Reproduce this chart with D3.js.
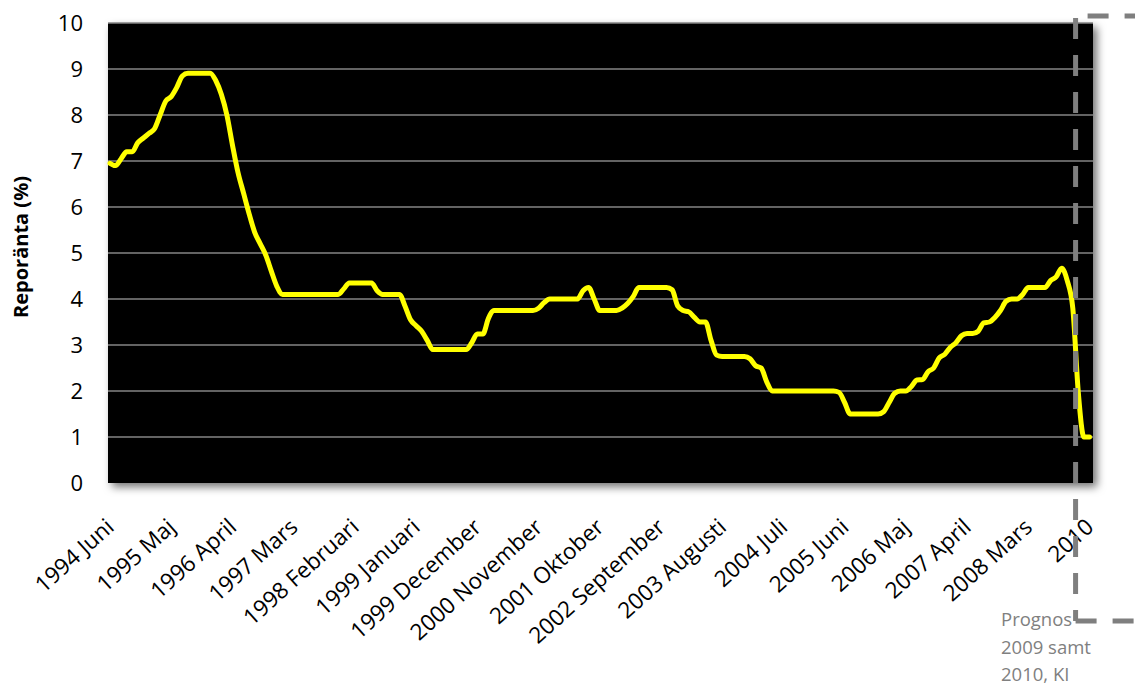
<!DOCTYPE html>
<html>
    <head>
        <title>Reporänta</title>
        <script src="https://d3js.org/d3.v7.min.js"></script>
        <meta charset="UTF-8">
        <style>
            body { margin: 0; background: #fff; }
            text { font-family: "Open Sans", sans-serif; }
        </style>
    </head>
    <body>
        <script>
            var w = 1135;
            var h = 686;

            // månadsnamn för kategorierna
            var monthNames = ["Januari", "Februari", "Mars", "April", "Maj", "Juni",
                "Juli", "Augusti", "September", "Oktober", "November", "December"];

            // 1994 Juni .. 2008 December, sedan prognosår
            var forecastYears = ["2009", "2010"];
            var categories = [];
            for (var y = 1994, m = 5; y < 2009; m++) {
                if (m > 11) { m = 0; y++; if (y > 2008) break; }
                categories.push(y + " " + monthNames[m]);
            }
            categories = categories.concat(forecastYears);

            // reporänta (%) per månad, rad = juni..maj
            var rates = [
                6.95, 6.9, 7.05, 7.2, 7.2, 7.4, 7.5, 7.6, 7.7, 8.0, 8.3, 8.4,
                8.6, 8.85, 8.91, 8.91, 8.91, 8.91, 8.91, 8.75, 8.45, 8.0, 7.35, 6.75,
                6.3, 5.85, 5.45, 5.2, 4.95, 4.6, 4.27, 4.1, 4.1, 4.1, 4.1, 4.1,
                4.1, 4.1, 4.1, 4.1, 4.1, 4.1, 4.22, 4.35, 4.35, 4.35, 4.35, 4.35,
                4.18, 4.1, 4.1, 4.1, 4.1, 3.85, 3.55, 3.42, 3.3, 3.1, 2.9, 2.9,
                2.9, 2.9, 2.9, 2.9, 2.9, 3.05, 3.24, 3.24, 3.58, 3.75, 3.75, 3.75,
                3.75, 3.75, 3.75, 3.75, 3.75, 3.8, 3.92, 4.0, 4.0, 4.0, 4.0, 4.0,
                4.0, 4.18, 4.25, 4.0, 3.75, 3.75, 3.75, 3.75, 3.8, 3.9, 4.05, 4.25,
                4.25, 4.25, 4.25, 4.25, 4.25, 4.2, 3.85, 3.75, 3.72, 3.6, 3.5, 3.5,
                3.1, 2.78, 2.75, 2.75, 2.75, 2.75, 2.75, 2.7, 2.55, 2.5, 2.2, 2.0,
                2.0, 2.0, 2.0, 2.0, 2.0, 2.0, 2.0, 2.0, 2.0, 2.0, 2.0, 1.97,
                1.75, 1.5, 1.5, 1.5, 1.5, 1.5, 1.5, 1.55, 1.75, 1.95, 2.0, 2.0,
                2.1, 2.24, 2.25, 2.42, 2.5, 2.72, 2.8, 2.95, 3.05, 3.2, 3.25, 3.25,
                3.3, 3.48, 3.5, 3.6, 3.75, 3.95, 4.0, 4.0, 4.1, 4.25, 4.25, 4.25,
                4.25, 4.4, 4.48, 4.67, 4.4, 3.8, 1.95,
                1.0, 1.0
            ];

            var yTicks = [0, 1, 2, 3, 4, 5, 6, 7, 8, 9, 10];
            var xTickLabels = categories.filter(function (d, i) { return i % 11 === 0; });
            var noteLines = ["Prognos", "2009 samt", "2010, KI"];

            var plot = { left: 108, right: 1093, top: 23, bottom: 483 };

            var xscale = d3.scalePoint()
                    .domain(categories)
                    .range([110, 1089.5]);
            var yscale = d3.scaleLinear()
                    .domain([0, 10])
                    .range([plot.bottom, plot.top]);

            var svg = d3.select("body")
                    .append("svg")
                    .attr("width", w)
                    .attr("height", h);

            var filter = svg.append("defs").append("filter")
                    .attr("id", "shadow")
                    .attr("x", "-5%").attr("y", "-10%")
                    .attr("width", "110%").attr("height", "125%");
            filter.append("feDropShadow")
                    .attr("dx", 4).attr("dy", 4)
                    .attr("stdDeviation", 4)
                    .attr("flood-color", "#000")
                    .attr("flood-opacity", 0.55);

            // svart plotyta
            svg.append("rect")
                    .attr("x", plot.left)
                    .attr("y", plot.top)
                    .attr("width", plot.right - plot.left)
                    .attr("height", plot.bottom - plot.top)
                    .attr("fill", "#000")
                    .attr("filter", "url(#shadow)");

            // stödlinjer
            svg.selectAll("line.grid")
                    .data(yTicks.filter(function (d) { return d > 0; }))
                    .enter()
                    .append("line")
                    .attr("class", "grid")
                    .attr("x1", plot.left)
                    .attr("x2", plot.right)
                    .attr("y1", function (d) { return yscale(d); })
                    .attr("y2", function (d) { return yscale(d); })
                    .attr("stroke", "#858585")
                    .attr("stroke-width", 1.6);

            // y-axel
            var yAxis = svg.append("g")
                    .attr("transform", "translate(" + plot.left + ",0)")
                    .call(d3.axisLeft(yscale).tickValues(yTicks).tickSize(0).tickPadding(25));
            yAxis.select(".domain").remove();
            yAxis.selectAll("text")
                    .style("font-family", "'Open Sans', sans-serif")
                    .style("font-size", "22px")
                    .attr("fill", "#000");

            // x-axel
            var xAxis = svg.append("g")
                    .attr("transform", "translate(0," + plot.bottom + ")")
                    .call(d3.axisBottom(xscale).tickValues(xTickLabels).tickSize(0));
            xAxis.select(".domain").remove();
            xAxis.selectAll("text")
                    .attr("x", 0)
                    .attr("y", 0)
                    .attr("dy", null)
                    .attr("text-anchor", "end")
                    .attr("transform", "translate(5,46) rotate(-42)")
                    .style("font-family", "'Open Sans', sans-serif")
                    .style("font-size", "22.5px")
                    .attr("fill", "#000");

            // y-axeltitel
            svg.append("text")
                    .attr("transform", "translate(28,247) rotate(-90)")
                    .attr("text-anchor", "middle")
                    .style("font-size", "20px")
                    .style("font-weight", "bold")
                    .text("Reporänta (%)");

            // linjen
            var line = d3.line()
                    .x(function (d, i) { return xscale(categories[i]); })
                    .y(function (d) { return yscale(d); })
                    .curve(d3.curveMonotoneX);
            svg.append("path")
                    .datum(rates)
                    .attr("d", line)
                    .attr("fill", "none")
                    .attr("stroke", "#ffff00")
                    .attr("stroke-width", 5)
                    .attr("stroke-linejoin", "round")
                    .attr("stroke-linecap", "round");

            // prognosruta (streckad)
            var step = xscale.step();
            var boxX = xscale("2008 November") + step / 2;
            var dash = { stroke: "#7f7f7f", width: 5, array: "21 16" };
            svg.append("line")
                    .attr("x1", boxX).attr("x2", boxX)
                    .attr("y1", 18).attr("y2", 621)
                    .attr("stroke", dash.stroke)
                    .attr("stroke-width", dash.width)
                    .attr("stroke-dasharray", dash.array);
            svg.append("line")
                    .attr("x1", boxX).attr("x2", w)
                    .attr("y1", 16).attr("y2", 16)
                    .attr("stroke", dash.stroke)
                    .attr("stroke-width", dash.width)
                    .attr("stroke-dasharray", dash.array)
                    .attr("stroke-dashoffset", 25);
            svg.append("line")
                    .attr("x1", boxX).attr("x2", w)
                    .attr("y1", 621).attr("y2", 621)
                    .attr("stroke", dash.stroke)
                    .attr("stroke-width", dash.width)
                    .attr("stroke-dasharray", dash.array);

            svg.selectAll("text.note")
                    .data(noteLines)
                    .enter()
                    .append("text")
                    .attr("class", "note")
                    .attr("x", 1001)
                    .attr("y", function (d, i) { return 626 + i * 27.5; })
                    .attr("fill", "#808080")
                    .style("font-size", "18.5px")
                    .text(function (d) { return d; });
        </script>
    </body>
</html>
